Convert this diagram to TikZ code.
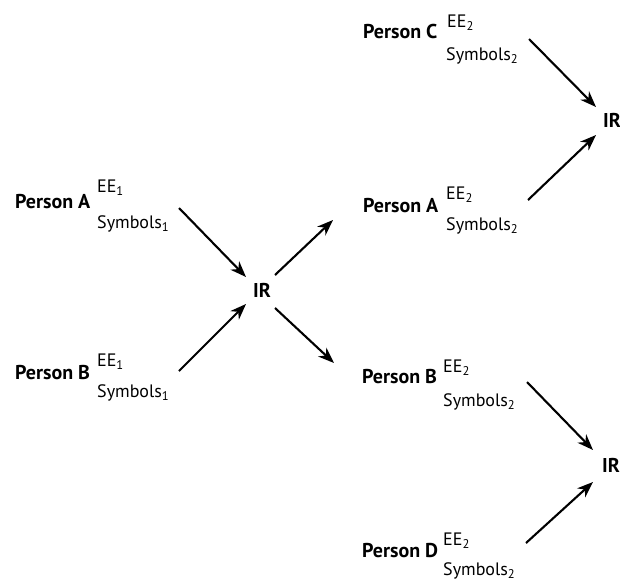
\documentclass[tikz,border=0pt]{standalone}
\usepackage{fontspec}
\setmainfont{PT Sans}
\usetikzlibrary{arrows.meta}
\newcommand{\sbs}[1]{\textsubscript{#1}}
\begin{document}
\begin{tikzpicture}[x=1pt,y=-1pt,
  person/.style={anchor=base west,inner sep=0pt,font=\fontsize{20}{22}\selectfont\bfseries},
  ir/.style={anchor=base west,inner sep=0pt,font=\fontsize{20}{22}\selectfont\bfseries},
  lab/.style={anchor=base west,inner sep=0pt,font=\fontsize{18}{20}\selectfont},
  arr/.style={line width=2.1pt,-{Stealth[length=16pt,width=12pt,inset=5pt]}}]
\useasboundingbox (0,0) rectangle (620,582);
% left group
\node[person] (pA1) at (15,208) {Person A};
\node[lab] (eA1) at (97,192) {EE\sbs{1}};
\node[lab] (sA1) at (97,228) {Symbols\sbs{1}};
\node[person] (pB1) at (15,379) {Person B};
\node[lab] (eB1) at (97,366) {EE\sbs{1}};
\node[lab] (sB1) at (97,397) {Symbols\sbs{1}};
\node[ir] (ir1) at (253,297) {IR};
% right middle
\node[person] (pA2) at (363,212) {Person A};
\node[lab] (eA2) at (446,199) {EE\sbs{2}};
\node[lab] (sA2) at (446,230) {Symbols\sbs{2}};
\node[person] (pB2) at (362,383) {Person B};
\node[lab] (eB2) at (443,372) {EE\sbs{2}};
\node[lab] (sB2) at (443,406) {Symbols\sbs{2}};
% top right
\node[person] (pC) at (363,38) {Person C};
\node[lab] (eC) at (447,27) {EE\sbs{2}};
\node[lab] (sC) at (446,60) {Symbols\sbs{2}};
\node[ir] (ir2) at (603,127) {IR};
% bottom right
\node[person] (pD) at (362,557) {Person D};
\node[lab] (eD) at (443,545) {EE\sbs{2}};
\node[lab] (sD) at (443,575) {Symbols\sbs{2}};
\node[ir] (ir3) at (602,472) {IR};
% connector coordinates
\coordinate (a1s) at (179,208); \coordinate (a1e) at (246,277);
\coordinate (b1s) at (179,371); \coordinate (b1e) at (246,304);
\coordinate (o1s) at (275,275); \coordinate (o1e) at (333,220);
\coordinate (o2s) at (275,308); \coordinate (o2e) at (334,363);
\coordinate (cs) at (529,39);  \coordinate (ce) at (596,107);
\coordinate (a2s) at (528,200); \coordinate (a2e) at (596,135);
\coordinate (b2s) at (527,382); \coordinate (b2e) at (593,450);
\coordinate (ds) at (526,543); \coordinate (de) at (593,482);
\draw[arr] (a1s) -- (a1e);
\draw[arr] (b1s) -- (b1e);
\draw[arr] (o1s) -- (o1e);
\draw[arr] (o2s) -- (o2e);
\draw[arr] (cs) -- (ce);
\draw[arr] (a2s) -- (a2e);
\draw[arr] (b2s) -- (b2e);
\draw[arr] (ds) -- (de);
\end{tikzpicture}
\end{document}
